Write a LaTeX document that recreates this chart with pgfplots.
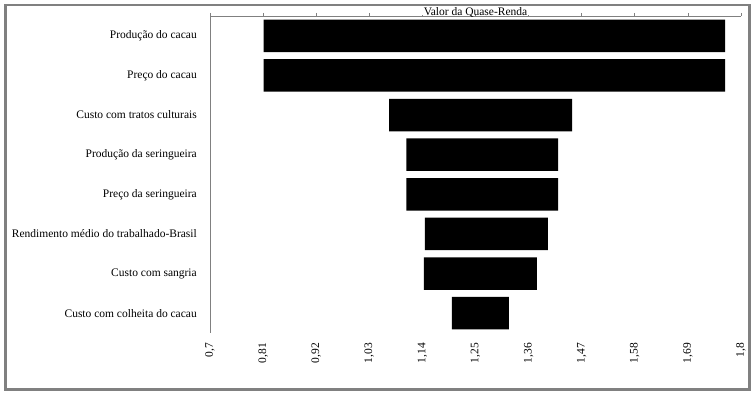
\documentclass[border=0pt]{standalone}
\usepackage{pgfplots}
\pgfplotsset{compat=1.18}
\usepackage{pgfplotstable}
\usepackage{fontspec}
\setmainfont{Liberation Serif}

\pgfplotstableread{
idx low high
0 0.811 1.767
1 0.811 1.767
2 1.071 1.450
3 1.107 1.421
4 1.107 1.421
5 1.145 1.400
6 1.143 1.377
7 1.201 1.319
}\data

\definecolor{framegray}{RGB}{128,128,128}
\definecolor{axgray}{RGB}{128,128,128}

\begin{document}
\begin{tikzpicture}[x=1pt,y=1pt]
\useasboundingbox (0,0) rectangle (754,393);
\draw[framegray, line width=2.6pt] (5.5,388) rectangle (749.5,3.5);

\begin{axis}[
  at={(210pt,377pt)}, anchor=north west,
  scale only axis, width=531pt, height=317pt,
  xmin=0.7, xmax=1.8, ymin=-0.5, ymax=7.5, y dir=reverse,
  axis x line*=top, axis y line*=left,
  axis line style={axgray, line width=0.8pt},
  xtick={0.7,0.81,0.92,1.03,1.14,1.25,1.36,1.47,1.58,1.69,1.8},
  xticklabels={},
  tick align=outside, major tick length=3pt,
  xtick style={axgray, line width=0.8pt},
  ytick={0,1,2,3,4,5,6,7},
  yticklabels={Produção do cacau, Preço do cacau, Custo com tratos culturais, Produção da seringueira, Preço da seringueira, Rendimento médio do trabalhado-Brasil, Custo com sangria, Custo com colheita do cacau},
  ytick style={draw=none},
  yticklabel style={font=\fontsize{11.5}{13}\selectfont, anchor=east, inner sep=0pt},
  yticklabel shift=10pt,
  title={Valor da Quase-Renda},
  title style={at={(0.5,1)}, anchor=base, inner ysep=0pt, inner xsep=3.5pt, text depth=0pt, fill=white, yshift=-5.5pt, font=\fontsize{11.5}{13}\selectfont},
  xbar stacked, bar width=0.82,
  clip=false,
]
\addplot[draw=none, fill=none] table[x=low, y=idx]{\data};
\addplot[draw=none, fill=black] table[x expr=\thisrow{high}-\thisrow{low}, y=idx]{\data};
\end{axis}

\begin{axis}[
  at={(210pt,377pt)}, anchor=north west,
  scale only axis, width=531pt, height=317pt,
  xmin=0.7, xmax=1.8, ymin=-0.5, ymax=7.5, y dir=reverse,
  hide y axis,
  axis x line*=bottom, x axis line style={draw=none},
  xtick={0.7,0.81,0.92,1.03,1.14,1.25,1.36,1.47,1.58,1.69,1.8},
  xticklabels={{0,7},{0,81},{0,92},{1,03},{1,14},{1,25},{1,36},{1,47},{1,58},{1,69},{1,8}},
  xtick style={draw=none}, major tick length=0pt,
  xticklabel style={font=\fontsize{11.5}{13}\selectfont, rotate=90, anchor=east, inner sep=0pt},
  xticklabel shift=10pt,
]
\end{axis}
\end{tikzpicture}
\end{document}
